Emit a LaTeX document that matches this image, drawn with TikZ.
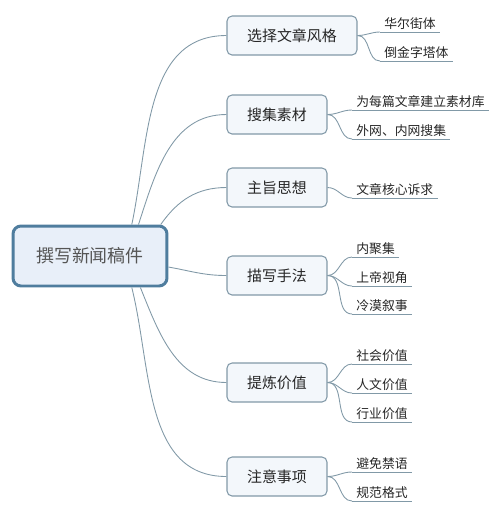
\documentclass[tikz,border=0pt]{standalone}
\usepackage{fontspec}
\setmainfont{Noto Sans CJK SC}
\usetikzlibrary{positioning}
\definecolor{rootblue}{HTML}{4F7D9E}
\definecolor{rootfill}{HTML}{E8EFF9}
\definecolor{topicline}{HTML}{8299A8}
\definecolor{topicfill}{HTML}{F3F7FB}
\definecolor{linkgray}{HTML}{8199A7}
\definecolor{textgray}{HTML}{555555}

\begin{document}
\begin{tikzpicture}[x=0.02cm,y=-0.02cm,
  root/.style={draw=rootblue,fill=rootfill,line width=1.7pt,rounded corners=0.16cm,minimum width=3.08cm,minimum height=1.2cm,text=textgray,font=\fontsize{10.2}{12}\selectfont},
  topic/.style={draw=topicline,fill=topicfill,line width=0.6pt,rounded corners=0.1cm,minimum width=2cm,minimum height=0.78cm,text=black!85,font=\fontsize{8.5}{10}\selectfont},
  leaf/.style={anchor=south west,inner xsep=0.08cm,inner ysep=0.05cm,text=black!85,font=\fontsize{7.3}{9}\selectfont},
  branch/.style={draw=linkgray,line width=0.5pt},
  twig/.style={draw=linkgray,line width=0.5pt}]
  \useasboundingbox (0,0) rectangle (498,512);
  % central node
  \node[root] (news) at (90,256) {撰写新闻稿件};
  % main topics
  \node[topic,minimum width=2.6cm] (style) at (292,35.5) {选择文章风格};
  \node[topic] (material) at (277,114.5) {搜集素材};
  \node[topic] (theme) at (277,187.5) {主旨思想};
  \node[topic] (method) at (277,275.5) {描写手法};
  \node[topic] (value) at (277,382.5) {提炼价值};
  \node[topic] (notice) at (277,476.5) {注意事项};
  % subtopics
  \node[leaf] (wallst) at (380,32) {华尔街体};
  \node[leaf] (pyramid) at (380,61) {倒金字塔体};
  \node[leaf] (library) at (352,110) {为每篇文章建立素材库};
  \node[leaf] (search) at (352,139) {外网、内网搜集};
  \node[leaf] (core) at (352,198) {文章核心诉求};
  \node[leaf] (focus) at (352,257) {内聚集};
  \node[leaf] (god) at (352,286) {上帝视角};
  \node[leaf] (cold) at (352,314) {冷漠叙事};
  \node[leaf] (social) at (352,364) {社会价值};
  \node[leaf] (human) at (352,393) {人文价值};
  \node[leaf] (trade) at (352,422) {行业价值};
  \node[leaf] (avoid) at (352,472) {避免禁语};
  \node[leaf] (format) at (352,501) {规范格式};
  % underlines
  \foreach \n in {wallst,pyramid,library,search,core,focus,god,cold,social,human,trade,avoid,format}
    \draw[twig] (\n.south west) -- (\n.south east);
  % branches from the centre
  \draw[branch] (news.37) to[out=78,in=180] (style.west);
  \draw[branch] (news.33) to[out=72,in=180] (material.west);
  \draw[branch] (news.24) to[out=55,in=180] (theme.west);
  \draw[branch] (news.-8) to[out=-10,in=180] (method.west);
  \draw[branch] (news.-32) to[out=-68,in=180] (value.west);
  \draw[branch] (news.-37) to[out=-76,in=180] (notice.west);
  % twigs to the subtopics
  \draw[twig] (style.east) to[out=0,in=180] (wallst.south west);
  \draw[twig] (style.east) to[out=0,in=180] (pyramid.south west);
  \draw[twig] (material.east) to[out=0,in=180] (library.south west);
  \draw[twig] (material.east) to[out=0,in=180] (search.south west);
  \draw[twig] (theme.east) to[out=0,in=180] (core.south west);
  \draw[twig] (method.east) to[out=0,in=180] (focus.south west);
  \draw[twig] (method.east) to[out=0,in=180] (god.south west);
  \draw[twig] (method.east) to[out=0,in=180] (cold.south west);
  \draw[twig] (value.east) to[out=0,in=180] (social.south west);
  \draw[twig] (value.east) to[out=0,in=180] (human.south west);
  \draw[twig] (value.east) to[out=0,in=180] (trade.south west);
  \draw[twig] (notice.east) to[out=0,in=180] (avoid.south west);
  \draw[twig] (notice.east) to[out=0,in=180] (format.south west);
\end{tikzpicture}
\end{document}
